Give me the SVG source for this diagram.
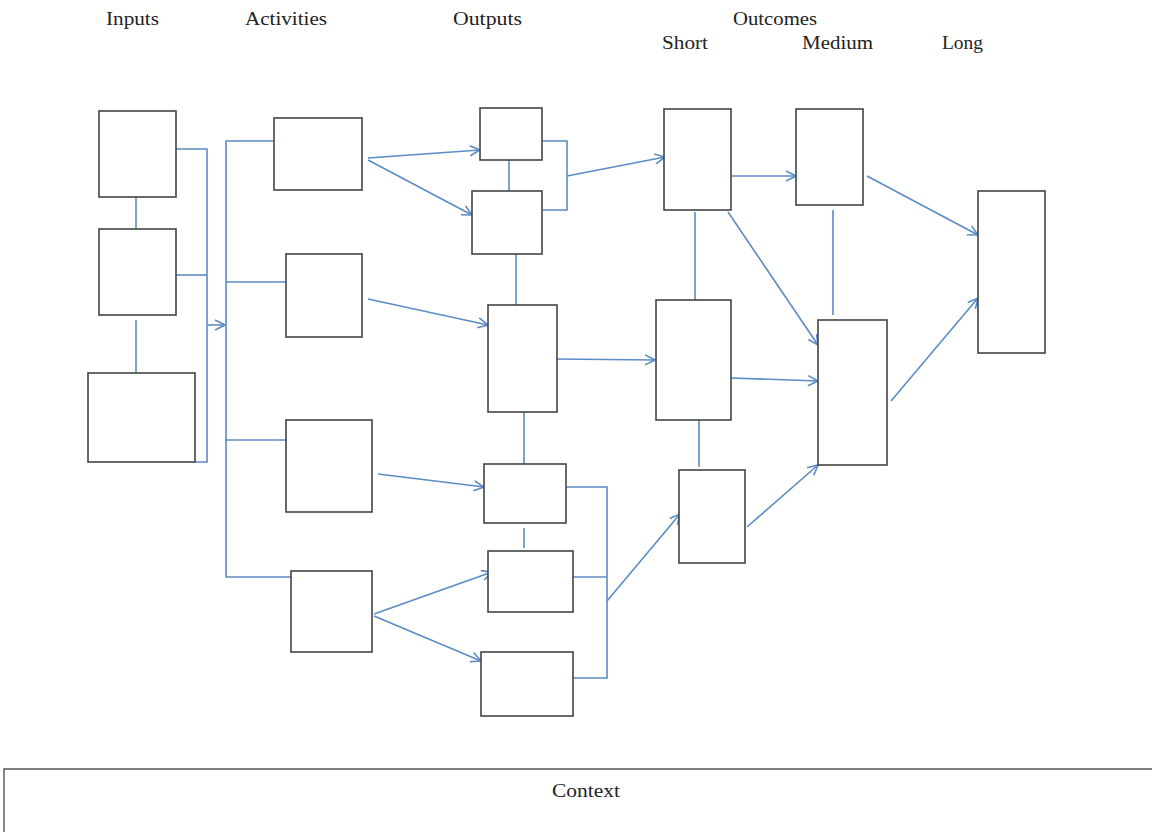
<svg xmlns="http://www.w3.org/2000/svg" width="1152" height="832" viewBox="0 0 1152 832">
<style>
.box{fill:#fff;stroke:#444;stroke-width:1.6}
.c{fill:none;stroke:#5b8cc4;stroke-width:1.6}
.a{fill:none;stroke:#5b8cc4;stroke-width:1.6;marker-end:url(#ah)}
text{font-family:"Liberation Serif","Times New Roman",serif;font-size:18px;fill:#222}
</style>
<defs>
<marker id="ah" viewBox="0 0 12 12" refX="11" refY="6" markerWidth="12" markerHeight="12" markerUnits="userSpaceOnUse" orient="auto">
<path d="M1,1 L11,6 L1,11" fill="none" stroke="#5b8cc4" stroke-width="1.6"/>
</marker>
</defs>
<rect width="1152" height="832" fill="#fff"/>
<g id="headers">
<text x="106" y="25" textLength="53" lengthAdjust="spacingAndGlyphs">Inputs</text>
<text x="245" y="25" textLength="82" lengthAdjust="spacingAndGlyphs">Activities</text>
<text x="453" y="25" textLength="69" lengthAdjust="spacingAndGlyphs">Outputs</text>
<text x="733" y="25" textLength="84" lengthAdjust="spacingAndGlyphs">Outcomes</text>
<text x="662" y="49" textLength="46" lengthAdjust="spacingAndGlyphs">Short</text>
<text x="802" y="49" textLength="71" lengthAdjust="spacingAndGlyphs">Medium</text>
<text x="942" y="49" textLength="41" lengthAdjust="spacingAndGlyphs">Long</text>
</g>
<g id="connectors">
<path class="c" d="M136,197 V229"/>
<path class="c" d="M136,320 V373"/>
<path class="c" d="M176,149 H207 V462 H195"/>
<path class="c" d="M176,275 H207"/>
<path class="a" d="M208,325 H225"/>
<path class="c" d="M274,141 H226 V577 H291"/>
<path class="c" d="M226,282 H286"/>
<path class="c" d="M226,440 H286"/>
<path class="a" d="M368,158 L480,150"/>
<path class="a" d="M368,160 L472,215"/>
<path class="a" d="M368,299 L488,325"/>
<path class="a" d="M378,474 L484,487"/>
<path class="a" d="M374,614 L492,572"/>
<path class="a" d="M374,616 L481,661"/>
<path class="c" d="M509,160 V191"/>
<path class="c" d="M516,254 V305"/>
<path class="c" d="M524,412 V464"/>
<path class="c" d="M524,528 V548"/>
<path class="c" d="M542,141 H567 V210 H542"/>
<path class="a" d="M567,176 L665,157"/>
<path class="a" d="M557,359 L655,360"/>
<path class="c" d="M566,487 H607 V678 H573"/>
<path class="c" d="M573,577 H607"/>
<path class="a" d="M607,601 L680,514"/>
<path class="c" d="M695,212 V300"/>
<path class="c" d="M699,420 V467"/>
<path class="c" d="M833,210 V315"/>
<path class="a" d="M731,176 L796,176"/>
<path class="a" d="M728,212 L818,345"/>
<path class="a" d="M731,378 L818,381"/>
<path class="a" d="M747,527 L818,465"/>
<path class="a" d="M867,176 L978,235"/>
<path class="a" d="M891,401 L978,298"/>
</g>
<g id="I1"><rect class="box" x="99" y="111" width="77" height="86"/></g>
<g id="I2"><rect class="box" x="99" y="229" width="77" height="86"/></g>
<g id="I3"><rect class="box" x="88" y="373" width="107" height="89"/></g>
<g id="A1"><rect class="box" x="274" y="118" width="88" height="72"/></g>
<g id="A2"><rect class="box" x="286" y="254" width="76" height="83"/></g>
<g id="A3"><rect class="box" x="286" y="420" width="86" height="92"/></g>
<g id="A4"><rect class="box" x="291" y="571" width="81" height="81"/></g>
<g id="O1"><rect class="box" x="480" y="108" width="62" height="52"/></g>
<g id="O2"><rect class="box" x="472" y="191" width="70" height="63"/></g>
<g id="O3"><rect class="box" x="488" y="305" width="69" height="107"/></g>
<g id="O4"><rect class="box" x="484" y="464" width="82" height="59"/></g>
<g id="O5"><rect class="box" x="488" y="551" width="85" height="61"/></g>
<g id="O6"><rect class="box" x="481" y="652" width="92" height="64"/></g>
<g id="S1"><rect class="box" x="664" y="109" width="67" height="101"/></g>
<g id="S2"><rect class="box" x="656" y="300" width="75" height="120"/></g>
<g id="S3"><rect class="box" x="679" y="470" width="66" height="93"/></g>
<g id="M1"><rect class="box" x="796" y="109" width="67" height="96"/></g>
<g id="M2"><rect class="box" x="818" y="320" width="69" height="145"/></g>
<g id="L1"><rect class="box" x="978" y="191" width="67" height="162"/></g>
<g id="context">
<path d="M4,840 V769 H1160" fill="none" stroke="#555" stroke-width="1.4"/>
<text x="552" y="797" textLength="68" lengthAdjust="spacingAndGlyphs">Context</text>
</g>
</svg>
